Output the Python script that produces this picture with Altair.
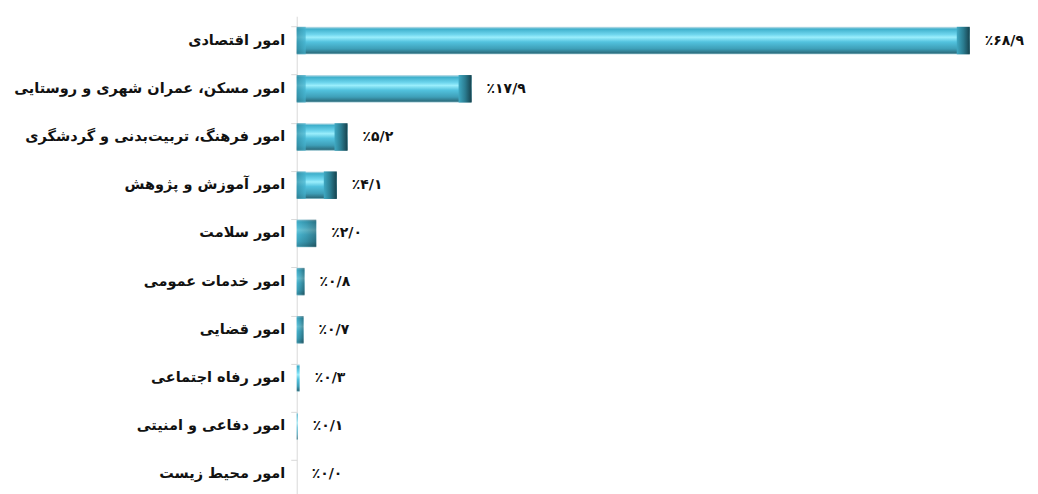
import altair as alt
import pandas as pd

categories = [
    "امور اقتصادی",
    "امور مسکن، عمران شهری و روستایی",
    "امور فرهنگ، تربیت\u200cبدنی و گردشگری",
    "امور آموزش و پژوهش",
    "امور سلامت",
    "امور خدمات عمومی",
    "امور قضایی",
    "امور رفاه اجتماعی",
    "امور دفاعی و امنیتی",
    "امور محیط زیست",
]
values = [68.9, 17.9, 5.2, 4.1, 2.0, 0.8, 0.7, 0.3, 0.1, 0.0]

FA = str.maketrans("0123456789.", "۰۱۲۳۴۵۶۷۸۹/")


def fa_label(v):
    return "\u066a" + f"{v:.1f}".translate(FA)


df = pd.DataFrame({
    "cat": categories,
    "val": values,
    "lbl": [fa_label(v) for v in values],
})

FONT = "DejaVu Sans"

main_grad = alt.Gradient(
    gradient="linear", x1=0, y1=0, x2=0, y2=1,
    stops=[
        alt.GradientStop(color="#cfe3ea", offset=0.0),
        alt.GradientStop(color="#3fb0cc", offset=0.08),
        alt.GradientStop(color="#6fd6ee", offset=0.28),
        alt.GradientStop(color="#9aeefc", offset=0.38),
        alt.GradientStop(color="#52c2de", offset=0.55),
        alt.GradientStop(color="#3e9fb8", offset=0.8),
        alt.GradientStop(color="#2d6f80", offset=0.95),
        alt.GradientStop(color="#9cc9d4", offset=1.0),
    ],
)

cap_grad = alt.Gradient(
    gradient="linear", x1=0, y1=0, x2=1, y2=0,
    stops=[
        alt.GradientStop(color="#3fa9c3", offset=0.0),
        alt.GradientStop(color="#2b7d91", offset=0.5),
        alt.GradientStop(color="#17424d", offset=1.0),
    ],
)

left_grad = alt.Gradient(
    gradient="linear", x1=0, y1=0, x2=1, y2=0,
    stops=[
        alt.GradientStop(color="#2f8aa0", offset=0.0),
        alt.GradientStop(color="#45b3cf", offset=1.0),
    ],
)

y_enc = alt.Y(
    "cat:N", sort=None, title=None,
    scale=alt.Scale(paddingInner=0.43, paddingOuter=0.22),
    axis=alt.Axis(
        bandPosition=0, tickSize=6, tickColor="#d9d9d9", domainColor="#d9d9d9",
        labelFont=FONT, labelFontSize=14.5, labelFontWeight="bold",
        labelColor="#111111", labelPadding=6, labelLimit=400, grid=False,
    ),
)
x_enc = alt.X(
    "val:Q", title=None,
    scale=alt.Scale(domain=[0, 72], nice=False),
    axis=None,
)

base = alt.Chart(df)

bars = base.mark_bar(color=main_grad).encode(y=y_enc, x=x_enc)

big = base.transform_filter("datum.val >= 3")
right_cap = big.mark_bar(color=cap_grad, xOffset=-13).encode(
    y=alt.Y("cat:N", sort=None), x=alt.X("val:Q"), x2="val:Q"
)
left_cap = big.mark_bar(color=left_grad, x2Offset=9, opacity=0.7).encode(
    y=alt.Y("cat:N", sort=None), x=alt.datum(0), x2=alt.datum(0)
)

small = base.transform_filter("datum.val < 3 && datum.val >= 0.5")
small_bars = small.mark_bar(color=cap_grad, opacity=0.55).encode(
    y=alt.Y("cat:N", sort=None), x=alt.X("val:Q"), x2=alt.datum(0)
)

text = base.mark_text(
    align="left", baseline="middle", dx=15, font=FONT, fontSize=14,
    fontWeight="bold", color="#111111",
).encode(y=alt.Y("cat:N", sort=None), x=alt.X("val:Q"), text="lbl:N")

chart = (
    alt.layer(bars, left_cap, right_cap, small_bars, text)
    .properties(width=704, height=483,
                autosize=alt.AutoSizeParams(type="none"),
                padding={"top": 8, "left": 289, "right": 30, "bottom": 0})
    .configure(background="white")
    .configure_view(stroke=None)
)

chart.save("out.html", embed_options={"renderer": "svg", "actions": False})
